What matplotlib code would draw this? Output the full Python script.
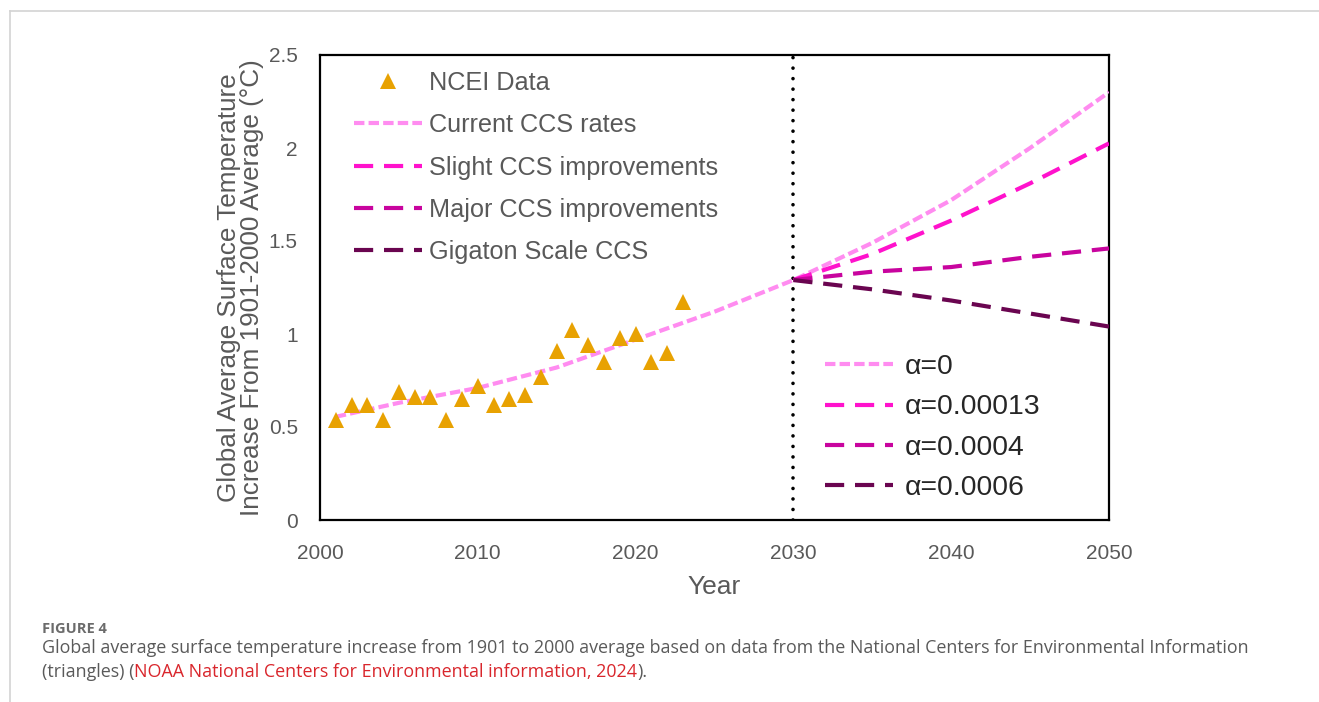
import matplotlib
matplotlib.use("Agg")
import matplotlib.pyplot as plt
from matplotlib.lines import Line2D

# ---------------- data ----------------
ncei_years = [2001, 2002, 2003, 2004, 2005, 2006, 2007, 2008, 2009, 2010, 2011, 2012,
              2013, 2014, 2015, 2016, 2017, 2018, 2019, 2020, 2021, 2022, 2023]
ncei_values = [0.54, 0.62, 0.62, 0.54, 0.69, 0.66, 0.66, 0.54, 0.65, 0.72, 0.62, 0.65,
               0.67, 0.77, 0.91, 1.02, 0.94, 0.85, 0.98, 1.00, 0.85, 0.90, 1.17]

current_years = [2001, 2005, 2010, 2015, 2020, 2025, 2030, 2035, 2040, 2045, 2050]
current_values = [0.555, 0.63, 0.71, 0.82, 0.97, 1.12, 1.29, 1.49, 1.72, 2.00, 2.30]

proj_years = [2030, 2035, 2040, 2045, 2050]
slight_values = [1.29, 1.43, 1.61, 1.81, 2.025]
major_values = [1.29, 1.335, 1.36, 1.415, 1.46]
gigaton_values = [1.29, 1.24, 1.18, 1.11, 1.04]

labels_a = ["NCEI Data", "Current CCS rates", "Slight CCS improvements",
            "Major CCS improvements", "Gigaton Scale CCS"]
labels_b = ["\u03b1=0", "\u03b1=0.00013", "\u03b1=0.0004", "\u03b1=0.0006"]

x_ticks = [2000, 2010, 2020, 2030, 2040, 2050]
y_ticks = [0, 0.5, 1, 1.5, 2, 2.5]
y_tick_labels = ["0", "0.5", "1", "1.5", "2", "2.5"]
divider_year = 2030

# ---------------- style ----------------
c_tri = "#E8A202"
c_cur = "#FF8CF0"
c_sli = "#FF12CC"
c_maj = "#C8049E"
c_gig = "#6A0550"
c_text = "#595959"
lw = 3.0
dash_short = (0, (2.5, 1.0))
dash_long = (0, (4.6, 2.6))

plt.rcParams['font.family'] = ['Liberation Sans', 'DejaVu Sans']

fig = plt.figure(figsize=(13.19, 7.02), dpi=100)
W, H = 1319, 702
ax = fig.add_axes([320 / W, 1 - 520 / H, (1109 - 320) / W, (520 - 55) / H])
AW, AH = 789.0, 465.0

ax.axvline(divider_year, color="black", lw=2.6, linestyle=(0, (0.01, 2.9)),
           dash_capstyle="round", zorder=2)

ax.plot(current_years, current_values, color=c_cur, lw=lw, linestyle=dash_short, zorder=3)
ax.plot(proj_years, slight_values, color=c_sli, lw=lw, linestyle=dash_long, zorder=3)
ax.plot(proj_years, major_values, color=c_maj, lw=lw, linestyle=dash_long, zorder=3)
ax.plot(proj_years, gigaton_values, color=c_gig, lw=lw, linestyle=dash_long, zorder=3)
ax.plot(ncei_years, ncei_values, linestyle="none", marker="^", markersize=12,
        color=c_tri, markeredgewidth=0, zorder=4)

ax.set_xlim(2000, 2050)
ax.set_ylim(0, 2.5)
ax.set_xticks(x_ticks)
ax.set_yticks(y_ticks)
ax.set_yticklabels(y_tick_labels)
ax.tick_params(axis="both", length=0, labelsize=15, labelcolor=c_text)
ax.tick_params(axis="x", pad=17)
ax.tick_params(axis="y", pad=16)
for s in ax.spines.values():
    s.set_color("black")
    s.set_linewidth(1.6)

ax.set_xlabel("Year", fontsize=19, color=c_text, labelpad=9)
ax.set_ylabel("Global Average Surface Temperature\nIncrease From 1901-2000 Average (\u00b0C)",
              fontsize=18.8, color=c_text, labelpad=3, linespacing=0.95)

tri_h = Line2D([], [], linestyle="none", marker="^", markersize=11, color=c_tri, markeredgewidth=0)
h_cur = Line2D([], [], color=c_cur, lw=lw, linestyle=dash_short)
h_sli = Line2D([], [], color=c_sli, lw=lw, linestyle=dash_long)
h_maj = Line2D([], [], color=c_maj, lw=lw, linestyle=dash_long)
h_gig = Line2D([], [], color=c_gig, lw=lw, linestyle=dash_long)

leg1 = ax.legend([tri_h, h_cur, h_sli, h_maj, h_gig], labels_a, loc="upper left",
                 bbox_to_anchor=(24 / AW, 1 - 6 / AH), frameon=False, fontsize=18.2,
                 handlelength=2.7, handletextpad=0.25, labelspacing=0.72,
                 borderaxespad=0, labelcolor=c_text)
ax.add_artist(leg1)
ax.legend([h_cur, h_sli, h_maj, h_gig], labels_b, loc="upper left",
          bbox_to_anchor=((814 - 320) / AW, 1 - (343 - 55) / AH), frameon=False,
          fontsize=20.4, handlelength=2.4, handletextpad=0.39, labelspacing=0.5,
          borderaxespad=0, labelcolor="#262626")

# ---------------- page frame & caption ----------------
fig.add_artist(Line2D([10 / W, 1], [1 - 11 / H, 1 - 11 / H], color="#d3d3d3", lw=1.2,
                      transform=fig.transFigure))
fig.add_artist(Line2D([10 / W, 10 / W], [1 - 11 / H, 0], color="#d3d3d3", lw=1.2,
                      transform=fig.transFigure))

cap_font = ['Open Sans', 'DejaVu Sans']
cap_size = 12.9
fig.text(42 / W, 1 - 629 / H, "FIGURE 4", fontsize=10.5, fontweight="bold", color="#6b6b6b",
         va="center", family=cap_font)
fig.text(42 / W, 1 - 648 / H,
         "Global average surface temperature increase from 1901 to 2000 average based on data "
         "from the National Centers for Environmental Information",
         fontsize=cap_size, color="#5a5a5a", va="center", family=cap_font)

fig.canvas.draw()
r = fig.canvas.get_renderer()
t1 = fig.text(42 / W, 1 - 672 / H, "(triangles) (", fontsize=cap_size, color="#5a5a5a",
              va="center", family=cap_font)
bb = t1.get_window_extent(renderer=r)
t2 = fig.text(bb.x1 / W, 1 - 672 / H, "NOAA National Centers for Environmental information, 2024",
              fontsize=cap_size, color="#D9262C", va="center", family=cap_font)
bb2 = t2.get_window_extent(renderer=r)
fig.text(bb2.x1 / W, 1 - 672 / H, ").", fontsize=cap_size, color="#5a5a5a", va="center",
         family=cap_font)

fig.savefig("out.png", dpi=100)
